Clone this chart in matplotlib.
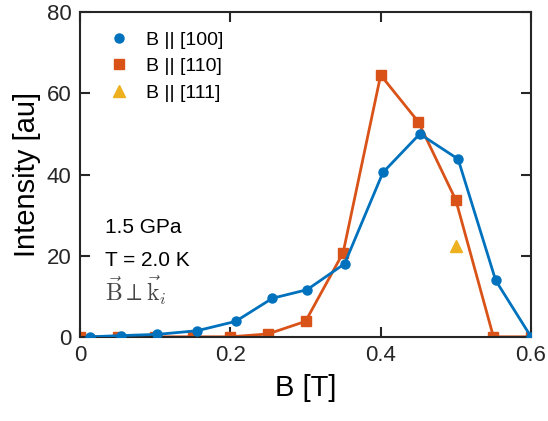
import numpy as np
import matplotlib.pyplot as plt

plt.rcParams['font.family'] = ['Liberation Sans', 'DejaVu Sans']

# Données
b_100 = [0.013, 0.055, 0.103, 0.156, 0.207, 0.256, 0.302, 0.352, 0.403, 0.452, 0.503, 0.553, 0.6]
i_100 = [0.0, 0.3, 0.6, 1.5, 3.8, 9.5, 11.6, 18.0, 40.5, 50.0, 43.8, 13.9, 0.0]

b_110 = [0.0, 0.05, 0.1, 0.15, 0.2, 0.25, 0.3, 0.35, 0.4, 0.45, 0.5, 0.55, 0.6]
i_110 = [0.0, 0.0, 0.0, 0.0, 0.0, 0.7, 3.8, 20.7, 64.5, 53.0, 33.7, 0.0, 0.0]

b_111 = [0.5]
i_111 = [22.3]

blue = '#0072BD'
orange = '#D95319'
yellow = '#EDB120'

fig = plt.figure(figsize=(5.48, 4.21), dpi=100)
ax = fig.add_axes([0.146, 0.2, 0.823, 0.771])

ax.plot(b_100, i_100, color=blue, lw=2, marker='o', ms=6.5, label='B || [100]', zorder=3)
ax.plot(b_110, i_110, color=orange, lw=2, marker='s', ms=6.5, label='B || [110]', zorder=2)
ax.plot(b_111, i_111, color=yellow, lw=0, marker='^', ms=8, label='B || [111]', zorder=2)

ax.set_xlim(0, 0.6)
ax.set_ylim(0, 80)
ax.set_xticks([0, 0.2, 0.4, 0.6])
ax.set_xticklabels(['0', '0.2', '0.4', '0.6'])
ax.set_yticks([0, 20, 40, 60, 80])
ax.tick_params(direction='in', top=True, right=True, length=7, width=1.5,
               labelsize=16, color='#262626', labelcolor='#262626', pad=6)
for s in ax.spines.values():
    s.set_linewidth(1.5)
    s.set_color('#262626')

ax.set_xlabel('B [T]', fontsize=21, labelpad=6)
ax.set_ylabel('Intensity [au]', fontsize=21, labelpad=4)

# Légende sans cadre, marqueurs seulement
h, l = ax.get_legend_handles_labels()
leg = ax.legend(h, l, loc='upper left', frameon=False, fontsize=14,
                handlelength=1.0, handletextpad=0.9, labelspacing=0.45,
                bbox_to_anchor=(0.025, 0.995))
for line in leg.get_lines():
    line.set_linestyle('')

ax.text(0.055, 0.32, '1.5 GPa', transform=ax.transAxes, fontsize=15)
ax.text(0.055, 0.217, 'T = 2.0 K', transform=ax.transAxes, fontsize=15)
ax.text(0.055, 0.11, r'$\vec{\rm B}\perp\vec{\rm k}_i$', transform=ax.transAxes,
        fontsize=17, color='#454545', math_fontfamily='cm')

fig.savefig('out.png', dpi=100)
